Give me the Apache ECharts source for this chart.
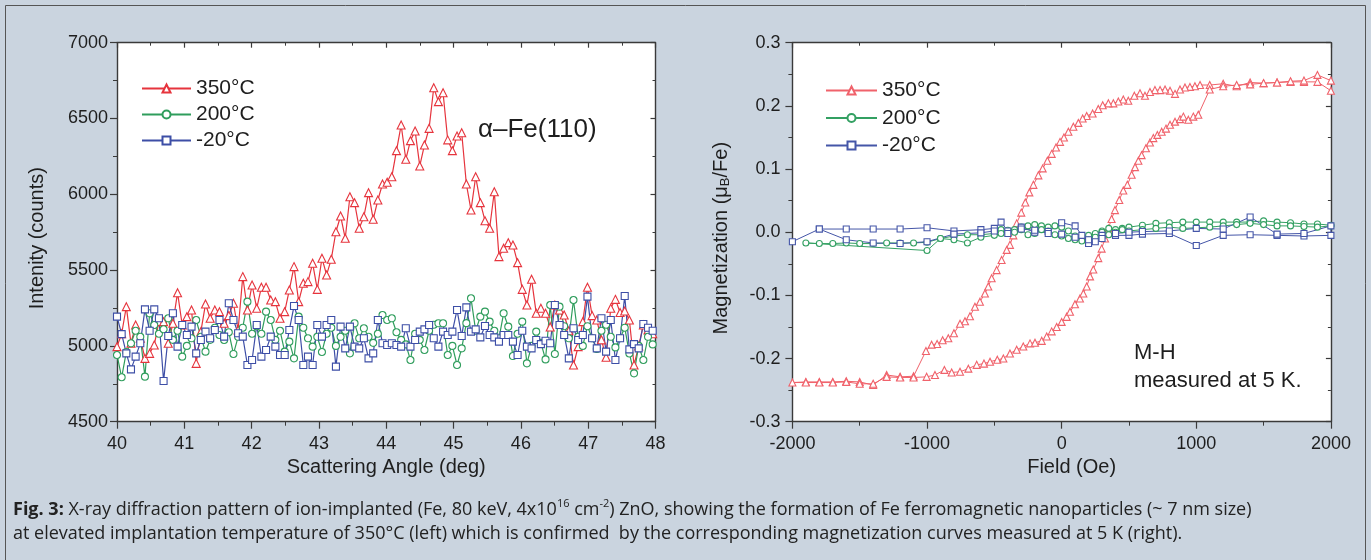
<!DOCTYPE html>
<html><head><meta charset="utf-8">
<script src="https://cdn.jsdelivr.net/npm/echarts@6/dist/echarts.min.js"></script>
<style>html,body{margin:0;padding:0;background:#cad4df}#c{width:1371px;height:560px}</style>
</head><body><div id="c"></div>
<script>
// ---------- DATA ----------
// XRD scan (left): regular 2-theta step scan
const xrdStart = 40.0, xrdStep = 0.0692;
const xrd350 = [4995,5080,5259,5017,5138,5050,4918,4951,5006,5160,
 5160,5017,5149,5351,5138,5193,5237,4885,5094,5276,
 5182,5237,5226,5149,5200,5281,5105,5457,5237,5402,
 5248,5387,5387,5303,5292,5182,5226,5369,5523,5292,
 5413,5424,5545,5373,5578,5468,5572,5753,5857,5710,
 5984,5945,5776,5852,6011,5835,5962,6068,6079,6116,
 6288,6457,6231,6354,6418,6187,6325,6435,6703,6611,
 6670,6359,6288,6385,6406,6068,5896,6116,5945,5826,
 5776,6017,5589,5644,5681,5666,5549,5373,5270,5440,
 5215,5248,5215,5125,5270,5237,5204,5100,4874,4995,
 5160,5387,5200,5171,5040,4925,5248,5307,5220,5230,
 5171,4874,5000,5138,5105,5080];
const xrd200 = [4940,4793,4960,5017,5100,5060,4797,5215,5138,5080,
 5110,5182,5040,5100,4929,5000,5050,5171,5060,4962,
 5040,5120,5072,5039,5090,4947,5060,5120,5292,5080,
 5130,5080,5226,5171,5040,5100,4962,5028,4918,5193,
 5120,5050,4995,5060,4960,5080,5120,5000,5060,5100,
 4951,5149,5050,5116,5060,5020,5080,5204,5171,5182,
 5090,5040,5010,4907,5080,5040,4973,5100,5140,5149,
 5149,4940,5000,4874,4984,5150,5314,5100,5193,5226,
 5160,5100,5050,5215,5127,4933,5080,5160,4885,5000,
 5094,5020,4911,5270,4947,5259,5130,5050,5303,5060,
 5000,5130,5050,4980,5100,5140,5060,4990,5050,5120,
 4950,4819,5000,4907,5060,5010];
const xrdM20 = [5193,5078,4951,4845,4929,5017,5241,5100,5241,5182,
 4768,5065,5215,4995,5138,5072,5127,4951,5039,5094,
 5050,5105,5171,5061,5281,5171,5083,5061,4874,4907,
 5138,4929,4973,5061,4995,4940,4940,5105,5263,5171,
 4874,4929,4874,5138,5061,5138,5171,4863,5127,4984,
 5127,4995,4984,5050,4918,4951,5171,5017,5006,5017,
 5006,4995,5116,4995,5039,5094,5109,5138,5050,4995,
 5094,5072,5094,5237,5065,5254,5094,5109,5056,5131,
 5072,5056,5028,5072,5072,5028,4940,5100,4995,4984,
 5039,5012,5034,5017,5270,5138,5072,4918,5116,5039,
 5072,5325,5050,4984,5182,4962,5171,4907,5050,5329,
 4977,5012,4984,5144,5120,5100];

// M-H loops (right): [field Oe, magnetization muB/Fe], in measurement order
const mh350 = [
[2000,0.224],[1900,0.238],[1800,0.238],[1700,0.238],[1600,0.237],[1500,0.236],[1400,0.237],[1300,0.231],[1200,0.235],[1100,0.233],
[1028,0.233],[990,0.231],[953,0.230],[916,0.229],[879,0.226],[842,0.219],[805,0.224],[768,0.226],[731,0.225],[693,0.225],
[656,0.222],[619,0.216],[582,0.220],[540,0.216],[495,0.208],[458,0.210],[421,0.207],[384,0.204],[347,0.204],[305,0.201],
[272,0.195],[230,0.188],[186,0.184],[156,0.180],[124,0.173],[87,0.167],[50,0.159],[17,0.150],[-12,0.143],[-42,0.134],
[-74,0.124],[-106,0.113],[-141,0.101],[-173,0.090],[-210,0.075],[-240,0.063],[-270,0.047],[-300,0.031],[-334,0.014],[-359,-0.005],
[-384,-0.020],[-408,-0.028],[-446,-0.044],[-483,-0.060],[-520,-0.073],[-545,-0.086],[-570,-0.097],[-607,-0.110],[-644,-0.118],[-681,-0.133],
[-718,-0.141],[-755,-0.145],[-800,-0.160],[-842,-0.168],[-884,-0.171],[-925,-0.177],[-966,-0.178],[-1008,-0.188],
[-1100,-0.228],[-1200,-0.229],[-1300,-0.226],[-1400,-0.242],[-1500,-0.237],[-1600,-0.236],[-1700,-0.237],[-1800,-0.237],[-1900,-0.237],[-2000,-0.238],
[-1900,-0.238],[-1800,-0.238],[-1700,-0.238],[-1600,-0.237],[-1500,-0.240],[-1400,-0.240],[-1300,-0.229],[-1200,-0.230],[-1100,-0.230],
[-1003,-0.229],[-941,-0.226],[-871,-0.218],[-817,-0.222],[-755,-0.221],[-693,-0.216],[-631,-0.210],[-577,-0.208],[-532,-0.205],[-478,-0.202],
[-433,-0.200],[-384,-0.192],[-334,-0.186],[-285,-0.181],[-235,-0.176],[-198,-0.175],[-148,-0.172],[-111,-0.165],[-74,-0.157],[-37,-0.150],
[0,-0.142],[37,-0.134],[62,-0.126],[99,-0.114],[136,-0.105],[161,-0.097],[186,-0.086],[211,-0.070],[235,-0.059],[272,-0.041],
[297,-0.026],[322,-0.010],[347,0.006],[371,0.021],[396,0.035],[428,0.051],[458,0.066],[488,0.075],[520,0.091],[545,0.103],
[570,0.113],[594,0.122],[626,0.133],[656,0.142],[681,0.149],[711,0.154],[743,0.159],[775,0.164],[805,0.170],[842,0.175],
[879,0.179],[904,0.183],[941,0.178],[978,0.183],[1015,0.186],
[1100,0.226],[1200,0.231],[1300,0.233],[1400,0.234],[1500,0.236],[1600,0.237],[1700,0.239],[1800,0.240],[1900,0.249],[2000,0.240]
];
const mh200 = [
[2000,0.011],[1900,0.013],[1800,0.013],[1700,0.015],[1600,0.016],[1500,0.018],[1400,0.016],[1300,0.016],[1200,0.016],[1100,0.016],
[1000,0.016],[900,0.016],[800,0.015],[700,0.014],[600,0.011],[500,0.008],[450,0.006],[400,0.004],[350,0.006],[300,0.002],
[250,-0.002],[200,-0.005],[150,-0.008],[100,-0.006],[50,0.002],[0,0.008],[-50,0.010],[-100,0.008],[-150,0.010],[-200,0.012],
[-250,0.010],[-300,0.008],[-350,0.004],[-400,0.002],[-450,0.004],[-500,-0.002],[-600,-0.004],[-700,-0.004],[-800,-0.006],[-900,-0.010],
[-1000,-0.029],
[-1900,-0.017],[-1800,-0.018],[-1700,-0.018],[-1600,-0.017],[-1500,-0.018],[-1400,-0.018],[-1300,-0.017],[-1200,-0.017],[-1100,-0.017],
[-1000,-0.016],[-900,-0.010],[-800,-0.012],[-700,-0.017],[-600,-0.008],[-500,-0.005],[-450,-0.002],[-400,0.003],[-350,0.000],[-300,0.004],
[-250,-0.004],[-200,-0.002],[-150,0.004],[-100,0.002],[-50,-0.004],[0,-0.006],[50,-0.010],[100,-0.012],[150,-0.014],[200,-0.012],
[250,-0.008],[300,0.000],[350,-0.004],[400,0.000],[450,0.004],[500,0.002],[600,0.004],[700,0.006],[800,0.008],[900,0.006],
[1000,0.007],[1100,0.008],[1200,0.010],[1300,0.012],[1400,0.014],[1500,0.012],[1600,0.010],[1700,0.010],[1800,0.009],[1900,0.008],[2000,0.010]
];
const mhM20 = [
[-2000,-0.015],[-1800,0.005],[-1600,0.005],[-1400,0.005],[-1200,0.005],[-1000,0.007],[-800,0.002],[-600,0.004],[-500,0.006],[-450,0.016],
[-400,0.002],[-300,0.008],[-200,0.000],[-100,0.001],[0,0.015],[100,0.010],[150,-0.005],[200,-0.018],[250,-0.015],[300,-0.005],
[400,-0.005],[500,-0.005],[600,-0.003],[800,-0.002],[1000,-0.021],[1200,-0.005],[1400,-0.004],[1600,-0.005],[1800,-0.006],[2000,-0.005],
[2000,0.010],[1800,-0.002],[1600,-0.003],[1400,0.024],[1200,0.005],[1000,0.006],[800,0.002],[600,0.001],[500,0.000],[400,-0.002],
[300,-0.010],[200,-0.012],[100,-0.008],[0,-0.003],[-100,-0.002],[-200,0.003],[-300,0.005],[-400,-0.002],[-500,0.002],[-600,-0.001],
[-800,-0.003],[-1000,-0.015],[-1200,-0.018],[-1400,-0.017],[-1600,-0.012],[-1800,0.005]
];

const seriesNames = ['350°C', '200°C', '-20°C'];
const xTicksLeft = {min: 40, max: 48, interval: 1};
const yTicksLeft = {min: 4500, max: 7000, interval: 500};
const xTicksRight = {min: -2000, max: 2000, interval: 1000};
const yTicksRight = {min: -0.3, max: 0.3, interval: 0.1};

// ---------- STYLE ----------
const FONT = '"Liberation Sans", Arial, Helvetica, sans-serif';
const CAPFONT = '"Open Sans", "Noto Sans", sans-serif';
const AX = '#3a3a3a';
const TXT = '#1e1e1e';
const C_L = ['#e6343d', '#2f9d5c', '#3d4ea6'];
const C_R = ['#f0626b', '#33a062', '#4556a8'];
const SYM = ['triangle', 'circle', 'rect'];
const SYMSIZE_L = [8, 7, 7];
const SYMSIZE_R = [7, 6, 6];

const angles = xrd350.map((_, i) => +(xrdStart + i * xrdStep).toFixed(4));
const toPairs = ys => ys.map((y, i) => [angles[i], y]);
const plain = v => String(v);

function xAxisPair(gi, t, name, nameExtra) {
  return [
    Object.assign({gridIndex: gi, type: 'value', position: 'bottom'}, t, {
      axisLine: {onZero: false, lineStyle: {color: AX, width: 1.4}},
      axisTick: {inside: false, length: 7, lineStyle: {color: AX, width: 1.2}},
      minorTick: {show: true, splitNumber: 2, length: 4, lineStyle: {color: AX, width: 1}},
      splitLine: {show: false},
      axisLabel: {fontSize: 18, color: TXT, fontFamily: FONT, margin: 13, formatter: plain},
      name: name, nameLocation: 'middle', nameGap: 34,
      nameTextStyle: Object.assign({fontSize: 20, color: TXT, fontFamily: FONT}, nameExtra || {})
    }),
    Object.assign({gridIndex: gi, type: 'value', position: 'top'}, t, {
      axisLine: {onZero: false, lineStyle: {color: AX, width: 1.4}},
      axisTick: {inside: true, length: 5, lineStyle: {color: AX, width: 1.2}},
      minorTick: {show: true, splitNumber: 2, length: 3, lineStyle: {color: AX, width: 1}},
      splitLine: {show: false}, axisLabel: {show: false}
    })
  ];
}
function yAxisPair(gi, t, name, gap, fmt, nameExtra, margin) {
  return [
    Object.assign({gridIndex: gi, type: 'value', position: 'left'}, t, {
      axisLine: {onZero: false, lineStyle: {color: AX, width: 1.4}},
      axisTick: {inside: false, length: 7, lineStyle: {color: AX, width: 1.2}},
      minorTick: {show: true, splitNumber: 2, length: 4, lineStyle: {color: AX, width: 1}},
      splitLine: {show: false},
      axisLabel: {fontSize: 18, color: TXT, fontFamily: FONT, margin: margin, formatter: fmt},
      name: name, nameLocation: 'middle', nameGap: gap, nameRotate: 90,
      nameTextStyle: Object.assign({fontSize: 20, color: TXT, fontFamily: FONT}, nameExtra || {})
    }),
    Object.assign({gridIndex: gi, type: 'value', position: 'right'}, t, {
      axisLine: {onZero: false, lineStyle: {color: AX, width: 1.4}},
      axisTick: {inside: true, length: 5, lineStyle: {color: AX, width: 1.2}},
      minorTick: {show: true, splitNumber: 2, length: 3, lineStyle: {color: AX, width: 1}},
      splitLine: {show: false}, axisLabel: {show: false}
    })
  ];
}

function mkSeries(name, data, xi, yi, color, sym, size, lw) {
  return {
    name: name, type: 'line', xAxisIndex: xi, yAxisIndex: yi, data: data,
    symbol: sym, symbolSize: size, showSymbol: true, showAllSymbol: true,
    itemStyle: {color: '#ffffff', borderColor: color, borderWidth: 1.1},
    lineStyle: {color: color, width: lw},
    emphasis: {disabled: true}, animation: false, z: 2
  };
}

const leftData = [toPairs(xrd350), toPairs(xrd200), toPairs(xrdM20)];
const rightData = [mh350, mh200, mhM20];
const series = [];
for (let k = 0; k < 3; k++) series.push(mkSeries(seriesNames[k], leftData[k], 0, 0, C_L[k], SYM[k], SYMSIZE_L[k], 1.2));
for (let k = 0; k < 3; k++) series.push(mkSeries(seriesNames[k] + ' ', rightData[k], 2, 2, C_R[k], SYM[k], SYMSIZE_R[k], 1));

const fmtR = v => Math.abs(v) < 1e-9 ? '0.0' : v.toFixed(1);

const option = {
  backgroundColor: '#cad4df',
  animation: false,
  grid: [
    {left: 117, top: 42.7, width: 538.5, height: 379, show: true, backgroundColor: '#ffffff', borderWidth: 0},
    {left: 792.4, top: 42.7, width: 538.5, height: 379, show: true, backgroundColor: '#ffffff', borderWidth: 0}
  ],
  xAxis: [].concat(
    xAxisPair(0, xTicksLeft, 'Scattering Angle (deg)'),
    xAxisPair(1, xTicksRight, 'Field (Oe)', {padding: [0, 0, 0, 20]})
  ),
  yAxis: [].concat(
    yAxisPair(0, yTicksLeft, 'Intenity (counts)', 70, plain, {padding: [0, 12, 0, 0]}, 9),
    yAxisPair(1, yTicksRight, '{a|Magnetization (μ}{s|B}{a|/Fe)}', 60, fmtR,
      {rich: {a: {fontSize: 20, color: TXT, fontFamily: FONT}, s: {fontSize: 13, color: TXT, fontFamily: FONT, verticalAlign: 'bottom', padding: [8, 0, 0, 0]}}, padding: [0, 12, 0, 0]}, 12)
  ),
  legend: [
    {left: 141, top: 78, orient: 'vertical', itemWidth: 49, itemHeight: 10, itemGap: 5, padding: 0,
     data: seriesNames, selectedMode: false,
     textStyle: {fontSize: 21, color: TXT, fontFamily: FONT, lineHeight: 21}},
    {left: 825, top: 80, orient: 'vertical', itemWidth: 51, itemHeight: 10, itemGap: 6.5, padding: 0,
     data: seriesNames.map(n => n + ' '), selectedMode: false, formatter: n => n.trim(),
     textStyle: {fontSize: 21, color: TXT, fontFamily: FONT, lineHeight: 21}}
  ],
  series: series,
  graphic: [
    {type: 'rect', silent: true, z: 0, shape: {x: 5.5, y: 5.5, width: 1360, height: 570},
     style: {fill: 'none', stroke: '#555', lineWidth: 1}},
    {type: 'text', left: 478, top: 117, z: 10,
     style: {text: 'α–Fe(110)', fontSize: 26, fill: TXT, fontFamily: FONT}},
    {type: 'text', left: 1134, top: 342, z: 10,
     style: {text: 'M-H', fontSize: 22, fill: TXT, fontFamily: FONT}},
    {type: 'text', left: 1134, top: 370, z: 10,
     style: {text: 'measured at 5 K.', fontSize: 22, fill: TXT, fontFamily: FONT}},
    {type: 'text', left: 13, top: 498, z: 10,
     style: {
       text: '{b|Fig. 3:}{n| X-ray diffraction pattern of ion-implanted (Fe, 80 keV, 4x10}{s|16}{n| cm}{s|-2}{n|) ZnO, showing the formation of Fe ferromagnetic nanoparticles (~ 7 nm size)}',
       rich: {
         b: {fontSize: 18, fontWeight: 'bold', fill: '#222', fontFamily: CAPFONT, lineHeight: 24},
         n: {fontSize: 18, fill: '#222', fontFamily: CAPFONT, lineHeight: 24},
         s: {fontSize: 11, fill: '#222', fontFamily: CAPFONT, lineHeight: 24, verticalAlign: 'top'}
       }
     }},
    {type: 'text', left: 13, top: 525, z: 10,
     style: {
       text: 'at elevated implantation temperature of 350°C (left) which is confirmed  by the corresponding magnetization curves measured at 5 K (right).',
       fontSize: 18, fill: '#222', fontFamily: CAPFONT
     }}
  ]
};

const chart = echarts.init(document.getElementById('c'), null, {renderer: 'canvas', width: 1371, height: 560});
chart.setOption(option);
</script></body></html>
